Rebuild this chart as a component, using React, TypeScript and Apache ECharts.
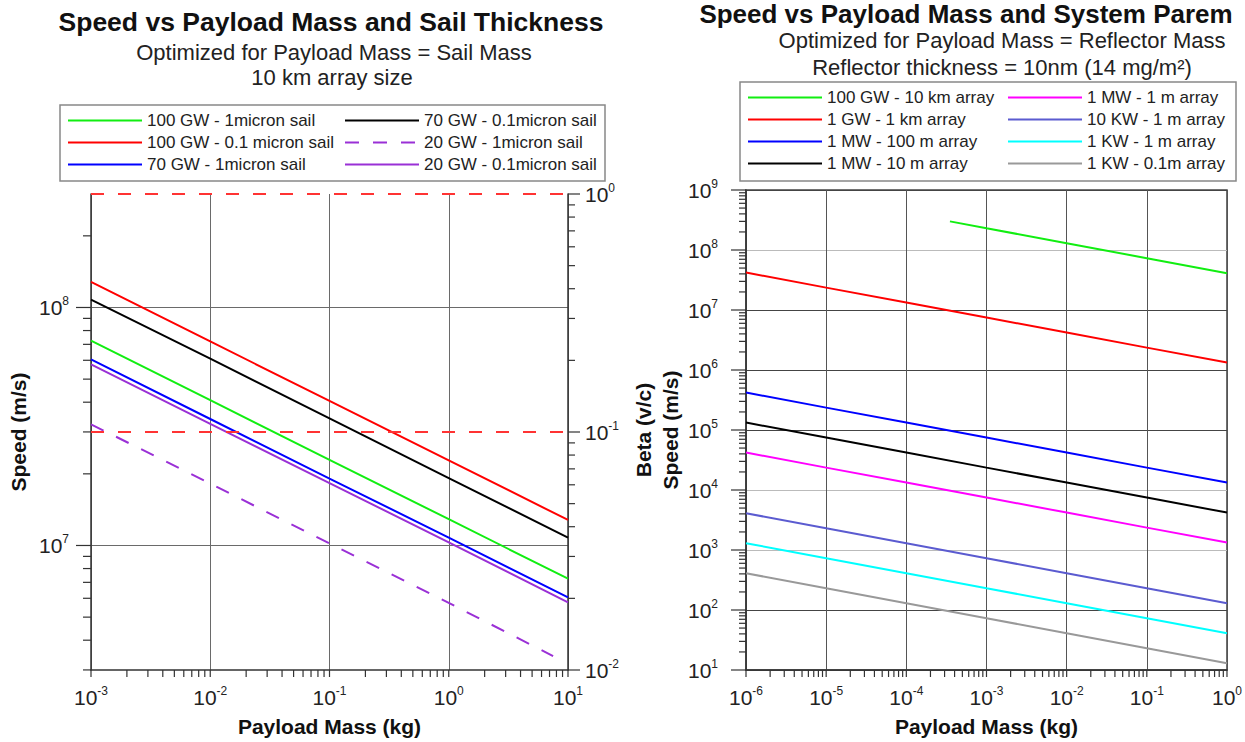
import React, { useEffect, useRef } from 'react';
import * as echarts from 'echarts';

const FONT = '"Liberation Sans", Arial, sans-serif';

// ---------- Left chart data ----------
const massLeft = [0.001, 0.01, 0.1, 1, 10];
const massLeftDashed = [0.001, 0.01, 0.1, 1, 7.5];
const speed100GW1um = [7.25e7, 4.08e7, 2.29e7, 1.29e7, 7.25e6];
const speed100GW01um = [1.28e8, 7.2e7, 4.05e7, 2.28e7, 1.28e7];
const speed70GW1um = [6.05e7, 3.4e7, 1.91e7, 1.08e7, 6.05e6];
const speed70GW01um = [1.08e8, 6.1e7, 3.42e7, 1.92e7, 1.08e7];
const speed20GW1um = [3.23e7, 1.82e7, 1.02e7, 5.74e6, 3.43e6];
const speed20GW01um = [5.77e7, 3.24e7, 1.83e7, 1.03e7, 5.77e6];
const betaLevels = [1, 0.1];
const leftNames = [
  '100 GW - 1micron sail',
  '100 GW - 0.1 micron sail',
  '70 GW - 1micron sail',
  '70 GW - 0.1micron sail',
  '20 GW - 1micron sail',
  '20 GW - 0.1micron sail',
];

// ---------- Right chart data ----------
const massRight = [1e-6, 1e-5, 1e-4, 1e-3, 1e-2, 1e-1, 1];
const massRightGreen = [3.5e-4, 1e-3, 1e-2, 1e-1, 1];
const speed100GW10km = [3.0e8, 2.3e8, 1.3e8, 7.3e7, 4.1e7];
const speed1GW1km = [4.2e7, 2.36e7, 1.33e7, 7.5e6, 4.2e6, 2.36e6, 1.33e6];
const speed1MW100m = [4.2e5, 2.36e5, 1.33e5, 7.5e4, 4.2e4, 2.36e4, 1.33e4];
const speed1MW10m = [1.33e5, 7.5e4, 4.2e4, 2.36e4, 1.33e4, 7.5e3, 4.2e3];
const speed1MW1m = [4.2e4, 2.36e4, 1.33e4, 7.5e3, 4.2e3, 2.36e3, 1.33e3];
const speed10KW1m = [4.1e3, 2.3e3, 1.3e3, 730, 410, 230, 130];
const speed1KW1m = [1.3e3, 730, 410, 230, 130, 73, 41];
const speed1KW01m = [410, 230, 130, 73, 41, 23, 13];
const rightNames = [
  '100 GW - 10 km array',
  '1 GW - 1 km array',
  '1 MW - 100 m array',
  '1 MW - 10 m array',
  '1 MW - 1 m array',
  '10 KW - 1 m array',
  '1 KW - 1 m array',
  '1 KW - 0.1m array',
];

const zip = (xs: number[], ys: number[]) => xs.map((x, i) => [x, ys[i]]);

const supFmt = (v: number) => {
  const l = Math.log10(v);
  const e = Math.round(l);
  if (Math.abs(l - e) > 1e-6) return '';
  return `{b|10}{s|${e}}`;
};
const labelRich = {
  b: { fontSize: 21, lineHeight: 25, fontFamily: FONT, color: '#222' },
  s: { fontSize: 12, lineHeight: 12, verticalAlign: 'top', fontFamily: FONT, color: '#222' },
};

// tick decoration helpers
const decadeTicks = (lo: number, hi: number) => {
  const out: { v: number; major: boolean }[] = [];
  for (let n = Math.floor(Math.log10(lo)) - 1; n <= Math.ceil(Math.log10(hi)); n++) {
    for (let k = 1; k <= 9; k++) {
      const v = k * Math.pow(10, n);
      if (v >= lo * 0.9999 && v <= hi * 1.0001) out.push({ v, major: k === 1 });
    }
  }
  return out;
};

const tickRender = (params: any, api: any) => {
  const p = api.coord([api.value(0), api.value(1)]);
  const len = api.value(2);
  const dir = api.value(3);
  let x2 = p[0];
  let y2 = p[1];
  if (dir === 0) y2 += len;
  else if (dir === 1) x2 -= len;
  else x2 += len;
  return {
    type: 'line',
    shape: { x1: p[0], y1: p[1], x2, y2 },
    style: { stroke: '#333', lineWidth: 1.2 },
  };
};

const tickSeries = (xi: number, yi: number, data: number[][]) => ({
  type: 'custom',
  xAxisIndex: xi,
  yAxisIndex: yi,
  silent: true,
  clip: false,
  z: 5,
  renderItem: tickRender,
  data,
});

export default function App() {
  const ref = useRef<HTMLDivElement>(null);
  useEffect(() => {
    if (!ref.current) return;
    const chart = echarts.init(ref.current, undefined, { renderer: 'svg' });

    const L_YMIN = 2.998e6;
    const L_YMAX = 2.998e8;
    const L_XMIN = 1e-3;
    const L_XMAX = 10;
    const R_XMIN = 1e-6;
    const R_XMAX = 1;
    const R_YMIN = 10;
    const R_YMAX = 1e9;

    const leftXTicks = decadeTicks(L_XMIN, L_XMAX).map((t) => [t.v, L_YMIN, 7, 0]);
    const leftYTicks = decadeTicks(L_YMIN, L_YMAX).map((t) => [L_XMIN, t.v, t.major ? 15 : 8, 1]);
    const betaTicks = decadeTicks(0.01, 1).map((t) => [L_XMAX, t.v, t.major ? 12 : 7, 2]);
    const rightXTicks = decadeTicks(R_XMIN, R_XMAX).map((t) => [t.v, R_YMIN, 7, 0]);
    const rightYTicks = decadeTicks(R_YMIN, R_YMAX).map((t) => [R_XMIN, t.v, t.major ? 15 : 7, 1]);

    const axisLine = { show: true, lineStyle: { color: '#333', width: 1.5 } };
    const nameStyle = { fontSize: 21, fontWeight: 'bold', fontFamily: FONT, color: '#111' };

    const lineS = (name: string, xi: number, yi: number, data: number[][], color: string, type: any = 'solid') => ({
      name,
      type: 'line',
      xAxisIndex: xi,
      yAxisIndex: yi,
      data,
      symbol: 'none',
      showSymbol: false,
      lineStyle: { color, width: 2, type },
      itemStyle: { color },
      z: 3,
    });

    const legendBase = {
      orient: 'vertical',
      itemWidth: 74,
      itemHeight: 14,
      itemGap: 5,
      padding: 0,
      selectedMode: false,
      itemStyle: { opacity: 0 },
      textStyle: { fontSize: 17, lineHeight: 17, fontFamily: FONT, color: '#222' },
    };

    const option: any = {
      animation: false,
      backgroundColor: '#fff',
      textStyle: { fontFamily: FONT },
      grid: [
        { left: 91, right: 677, top: 194, bottom: 70, show: false },
        { left: 746, right: 17, top: 190, bottom: 70, show: true, borderColor: '#444', borderWidth: 1.5 },
      ],
      legend: [
        { ...legendBase, left: 67, top: 112, data: leftNames.slice(0, 3) },
        { ...legendBase, left: 344, top: 112, data: leftNames.slice(3) },
        { ...legendBase, left: 747, top: 89, data: rightNames.slice(0, 4) },
        { ...legendBase, left: 1007, top: 89, data: rightNames.slice(4) },
      ],
      xAxis: [
        {
          type: 'log',
          gridIndex: 0,
          min: L_XMIN,
          max: L_XMAX,
          splitNumber: 4,
          axisLine,
          axisTick: { show: false },
          splitLine: { show: true, lineStyle: { color: '#6a6a6a', width: 1 } },
          axisLabel: { formatter: supFmt, rich: labelRich, margin: 15 },
          name: 'Payload Mass (kg)',
          nameLocation: 'middle',
          nameGap: 46,
          nameTextStyle: nameStyle,
        },
        {
          type: 'log',
          gridIndex: 1,
          min: R_XMIN,
          max: R_XMAX,
          splitNumber: 6,
          axisLine,
          axisTick: { show: false },
          splitLine: { show: true, lineStyle: { color: '#555', width: 1 } },
          axisLabel: { formatter: supFmt, rich: labelRich, margin: 15 },
          name: 'Payload Mass (kg)',
          nameLocation: 'middle',
          nameGap: 46,
          nameTextStyle: nameStyle,
        },
      ],
      yAxis: [
        {
          type: 'log',
          gridIndex: 0,
          min: L_YMIN,
          max: L_YMAX,
          splitNumber: 2,
          position: 'left',
          axisLine,
          axisTick: { show: false },
          splitLine: { show: true, showMinLine: false, showMaxLine: false, lineStyle: { color: '#6a6a6a', width: 1 } },
          axisLabel: { formatter: supFmt, rich: labelRich, margin: 22 },
          name: 'Speed (m/s)',
          nameLocation: 'middle',
          nameGap: 62,
          nameRotate: 90,
          nameTextStyle: nameStyle,
        },
        {
          type: 'log',
          gridIndex: 0,
          min: 0.01,
          max: 1,
          splitNumber: 2,
          position: 'right',
          axisLine,
          axisTick: { show: false },
          splitLine: { show: false },
          axisLabel: { formatter: supFmt, rich: labelRich, margin: 17 },
        },
        {
          type: 'log',
          gridIndex: 1,
          min: R_YMIN,
          max: R_YMAX,
          splitNumber: 8,
          axisLine,
          axisTick: { show: false },
          splitLine: {
            show: true,
            lineStyle: {
              color: ['#444', '#444', '#bbb', '#bbb', '#444', '#444', '#444', '#bbb', '#444'],
              width: 1,
            },
          },
          axisLabel: { formatter: supFmt, rich: labelRich, margin: 28 },
          name: 'Beta (v/c)\nSpeed (m/s)',
          nameLocation: 'middle',
          nameGap: 61,
          nameRotate: 90,
          nameTextStyle: { ...nameStyle, lineHeight: 27 },
        },
      ],
      graphic: [
        {
          type: 'text', x: 331, y: 22,
          style: { text: 'Speed vs Payload Mass and Sail Thickness', fontSize: 26.5, fontWeight: 'bold', fontFamily: FONT, fill: '#111', align: 'center', verticalAlign: 'middle' },
        },
        {
          type: 'text', x: 334, y: 52,
          style: { text: 'Optimized for Payload Mass = Sail Mass', fontSize: 22, fontFamily: FONT, fill: '#222', align: 'center', verticalAlign: 'middle' },
        },
        {
          type: 'text', x: 332, y: 77,
          style: { text: '10 km array size', fontSize: 22, fontFamily: FONT, fill: '#222', align: 'center', verticalAlign: 'middle' },
        },
        {
          type: 'text', x: 966, y: 14,
          style: { text: 'Speed vs Payload Mass and System Parem', fontSize: 26, fontWeight: 'bold', fontFamily: FONT, fill: '#111', align: 'center', verticalAlign: 'middle' },
        },
        {
          type: 'text', x: 1002, y: 40,
          style: { text: 'Optimized for Payload Mass = Reflector Mass', fontSize: 22, fontFamily: FONT, fill: '#222', align: 'center', verticalAlign: 'middle' },
        },
        {
          type: 'text', x: 1002, y: 67,
          style: { text: 'Reflector thickness = 10nm (14 mg/m\u00B2)', fontSize: 22, fontFamily: FONT, fill: '#222', align: 'center', verticalAlign: 'middle' },
        },
        {
          type: 'rect', shape: { x: 60, y: 105, width: 545, height: 76 },
          style: { fill: 'none', stroke: '#888', lineWidth: 1.5 },
        },
        {
          type: 'rect', shape: { x: 740, y: 82, width: 496, height: 99 },
          style: { fill: 'none', stroke: '#888', lineWidth: 1.5 },
        },
      ],
      series: [
        lineS(leftNames[0], 0, 0, zip(massLeft, speed100GW1um), '#11ee11'),
        lineS(leftNames[1], 0, 0, zip(massLeft, speed100GW01um), '#ff0000'),
        lineS(leftNames[2], 0, 0, zip(massLeft, speed70GW1um), '#0000ff'),
        lineS(leftNames[3], 0, 0, zip(massLeft, speed70GW01um), '#000000'),
        lineS(leftNames[4], 0, 0, zip(massLeftDashed, speed20GW1um), '#9a30d6', [14, 14]),
        lineS(leftNames[5], 0, 0, zip(massLeft, speed20GW01um), '#9a30d6'),
        {
          name: 'beta-ref',
          type: 'line',
          xAxisIndex: 0,
          yAxisIndex: 1,
          data: [],
          markLine: {
            silent: true,
            symbol: 'none',
            label: { show: false },
            lineStyle: { color: '#ff3333', width: 2, type: [13, 14] },
            data: betaLevels.map((b) => ({ yAxis: b })),
          },
          z: 4,
        },
        lineS(rightNames[0], 1, 2, zip(massRightGreen, speed100GW10km), '#11ee11'),
        lineS(rightNames[1], 1, 2, zip(massRight, speed1GW1km), '#ff0000'),
        lineS(rightNames[2], 1, 2, zip(massRight, speed1MW100m), '#0000ff'),
        lineS(rightNames[3], 1, 2, zip(massRight, speed1MW10m), '#000000'),
        lineS(rightNames[4], 1, 2, zip(massRight, speed1MW1m), '#ff00ff'),
        lineS(rightNames[5], 1, 2, zip(massRight, speed10KW1m), '#5b5bd0'),
        lineS(rightNames[6], 1, 2, zip(massRight, speed1KW1m), '#00ffff'),
        lineS(rightNames[7], 1, 2, zip(massRight, speed1KW01m), '#999999'),
        tickSeries(0, 0, leftXTicks),
        tickSeries(0, 0, leftYTicks),
        tickSeries(0, 1, betaTicks),
        tickSeries(1, 2, rightXTicks),
        tickSeries(1, 2, rightYTicks),
      ],
    };

    chart.setOption(option);
    return () => chart.dispose();
  }, []);

  return (
    <div
      ref={ref}
      style={{ position: 'absolute', left: 0, top: 0, width: 1245, height: 742, background: '#fff' }}
    />
  );
}
